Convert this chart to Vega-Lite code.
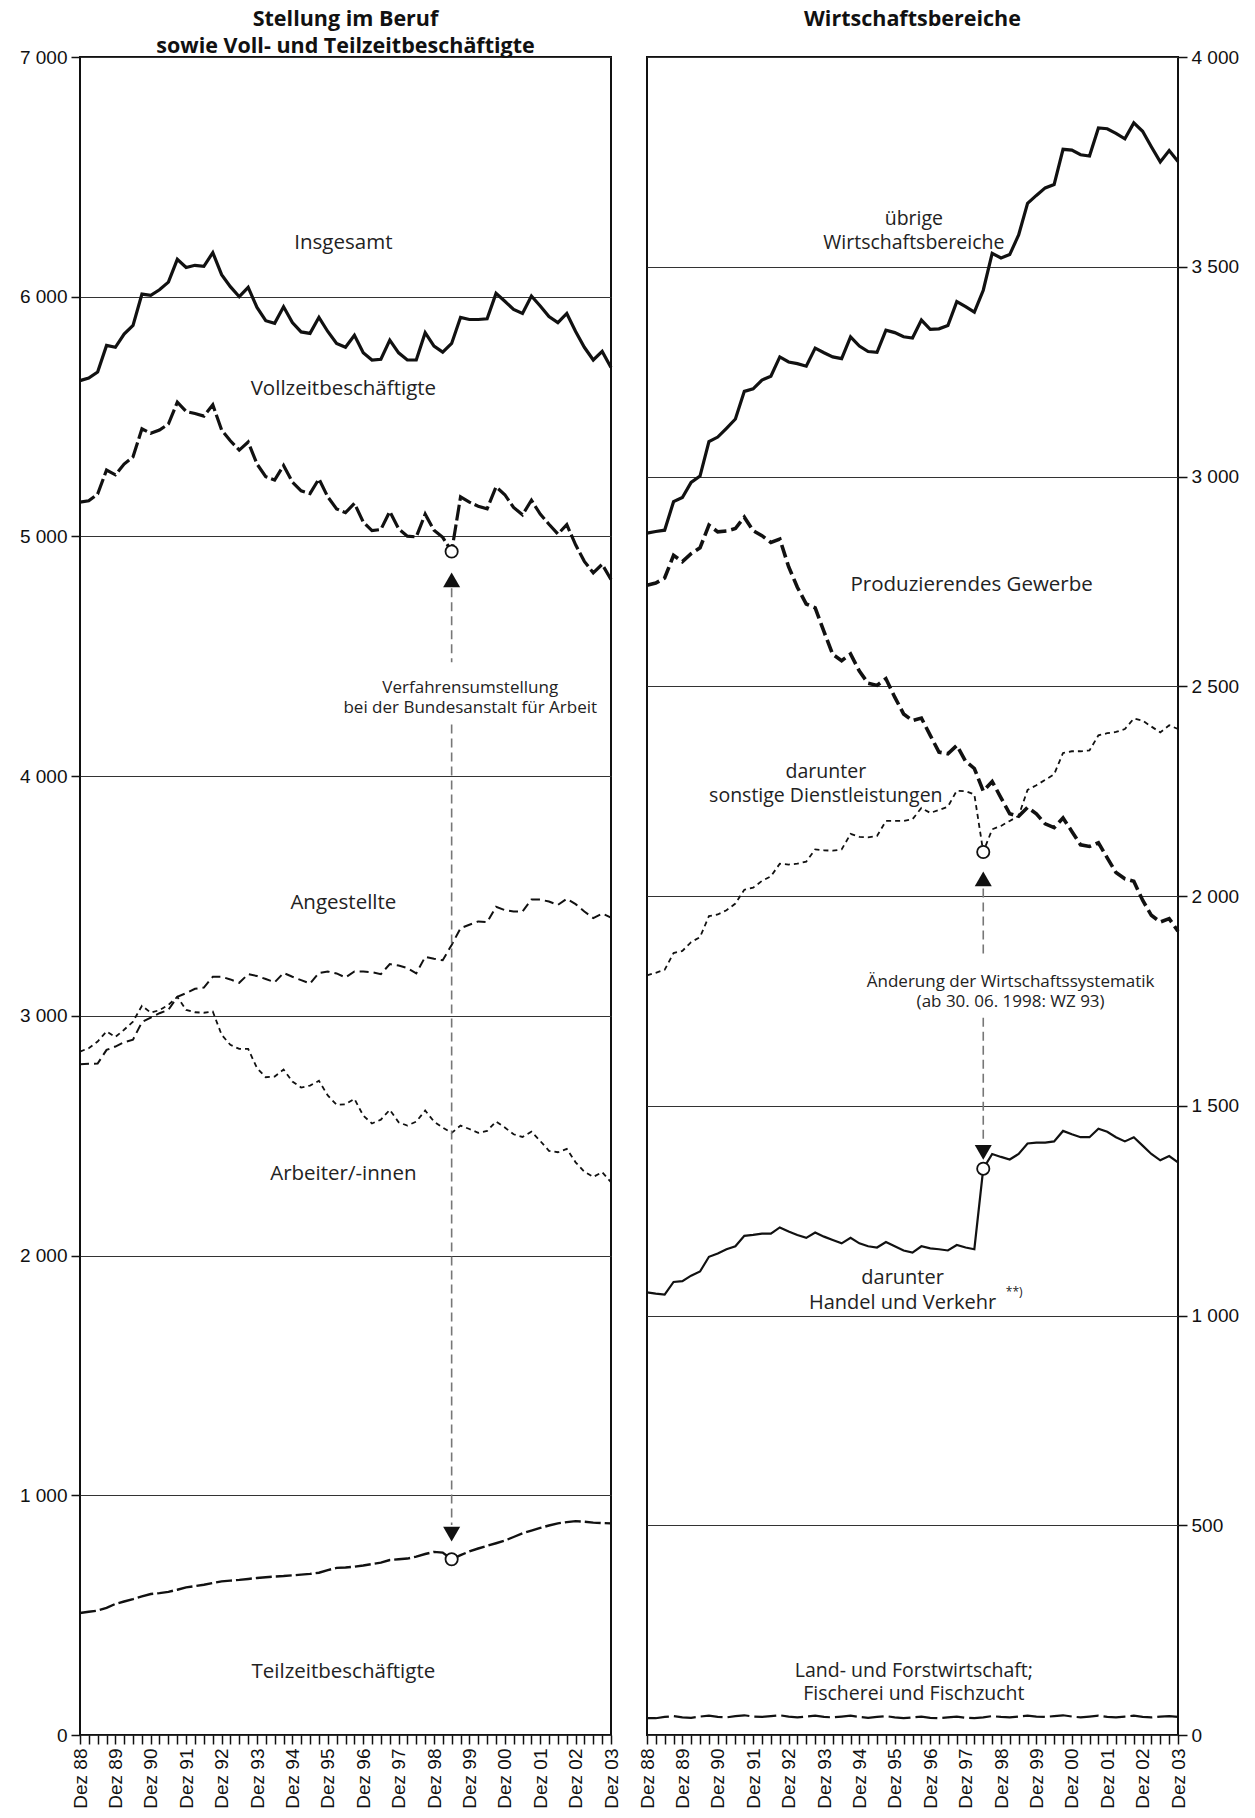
{
"$schema": "https://vega.github.io/schema/vega-lite/v6.json",
"background": "white",
"padding": {"left": 18, "top": 7, "right": 5, "bottom": 0},
"spacing": 15,
"config": {
  "view": {"stroke": "#111", "strokeWidth": 2},
  "font": "Open Sans",
  "title": {"font": "Open Sans", "fontSize": 21.5, "fontWeight": "bold", "color": "#111", "anchor": "middle", "lineHeight": 27, "offset": -9},
  "axis": {"title": null, "labelFont": "Liberation Sans", "labelFontSize": 19, "labelColor": "#111", "tickColor": "#111", "tickSize": 9, "tickWidth": 1.5, "domain": false, "labelPadding": 4},
  "text": {"font": "Open Sans", "color": "#222", "fontSize": 20, "align": "center", "baseline": "middle", "lineBreak": "\n"}
},
"datasets": {
"links": [
{"date":"1988-12","series":"Insgesamt","value":5650},{"date":"1989-03","series":"Insgesamt","value":5661},{"date":"1989-06","series":"Insgesamt","value":5686},{"date":"1989-09","series":"Insgesamt","value":5797},{"date":"1989-12","series":"Insgesamt","value":5789},{"date":"1990-03","series":"Insgesamt","value":5844},{"date":"1990-06","series":"Insgesamt","value":5880},{"date":"1990-09","series":"Insgesamt","value":6011},{"date":"1990-12","series":"Insgesamt","value":6006},{"date":"1991-03","series":"Insgesamt","value":6029},{"date":"1991-06","series":"Insgesamt","value":6061},{"date":"1991-09","series":"Insgesamt","value":6156},{"date":"1991-12","series":"Insgesamt","value":6122},{"date":"1992-03","series":"Insgesamt","value":6131},{"date":"1992-06","series":"Insgesamt","value":6127},{"date":"1992-09","series":"Insgesamt","value":6184},{"date":"1992-12","series":"Insgesamt","value":6092},{"date":"1993-03","series":"Insgesamt","value":6042},{"date":"1993-06","series":"Insgesamt","value":6000},{"date":"1993-09","series":"Insgesamt","value":6039},{"date":"1993-12","series":"Insgesamt","value":5955},{"date":"1994-03","series":"Insgesamt","value":5900},{"date":"1994-06","series":"Insgesamt","value":5889},{"date":"1994-09","series":"Insgesamt","value":5958},{"date":"1994-12","series":"Insgesamt","value":5892},{"date":"1995-03","series":"Insgesamt","value":5853},{"date":"1995-06","series":"Insgesamt","value":5847},{"date":"1995-09","series":"Insgesamt","value":5914},{"date":"1995-12","series":"Insgesamt","value":5855},{"date":"1996-03","series":"Insgesamt","value":5805},{"date":"1996-06","series":"Insgesamt","value":5789},{"date":"1996-09","series":"Insgesamt","value":5839},{"date":"1996-12","series":"Insgesamt","value":5766},{"date":"1997-03","series":"Insgesamt","value":5736},{"date":"1997-06","series":"Insgesamt","value":5739},{"date":"1997-09","series":"Insgesamt","value":5819},{"date":"1997-12","series":"Insgesamt","value":5766},{"date":"1998-03","series":"Insgesamt","value":5736},{"date":"1998-06","series":"Insgesamt","value":5736},{"date":"1998-09","series":"Insgesamt","value":5850},{"date":"1998-12","series":"Insgesamt","value":5794},{"date":"1999-03","series":"Insgesamt","value":5769},{"date":"1999-06","series":"Insgesamt","value":5805},{"date":"1999-09","series":"Insgesamt","value":5914},{"date":"1999-12","series":"Insgesamt","value":5905},{"date":"2000-03","series":"Insgesamt","value":5905},{"date":"2000-06","series":"Insgesamt","value":5908},{"date":"2000-09","series":"Insgesamt","value":6014},{"date":"2000-12","series":"Insgesamt","value":5981},{"date":"2001-03","series":"Insgesamt","value":5947},{"date":"2001-06","series":"Insgesamt","value":5930},{"date":"2001-09","series":"Insgesamt","value":6003},{"date":"2001-12","series":"Insgesamt","value":5961},{"date":"2002-03","series":"Insgesamt","value":5917},{"date":"2002-06","series":"Insgesamt","value":5892},{"date":"2002-09","series":"Insgesamt","value":5930},{"date":"2002-12","series":"Insgesamt","value":5855},{"date":"2003-03","series":"Insgesamt","value":5789},{"date":"2003-06","series":"Insgesamt","value":5736},{"date":"2003-09","series":"Insgesamt","value":5772},{"date":"2003-12","series":"Insgesamt","value":5705},
{"date":"1988-12","series":"Vollzeit","value":5143},{"date":"1989-03","series":"Vollzeit","value":5149},{"date":"1989-06","series":"Vollzeit","value":5177},{"date":"1989-09","series":"Vollzeit","value":5277},{"date":"1989-12","series":"Vollzeit","value":5257},{"date":"1990-03","series":"Vollzeit","value":5302},{"date":"1990-06","series":"Vollzeit","value":5332},{"date":"1990-09","series":"Vollzeit","value":5449},{"date":"1990-12","series":"Vollzeit","value":5430},{"date":"1991-03","series":"Vollzeit","value":5444},{"date":"1991-06","series":"Vollzeit","value":5469},{"date":"1991-09","series":"Vollzeit","value":5560},{"date":"1991-12","series":"Vollzeit","value":5521},{"date":"1992-03","series":"Vollzeit","value":5513},{"date":"1992-06","series":"Vollzeit","value":5502},{"date":"1992-09","series":"Vollzeit","value":5549},{"date":"1992-12","series":"Vollzeit","value":5444},{"date":"1993-03","series":"Vollzeit","value":5399},{"date":"1993-06","series":"Vollzeit","value":5360},{"date":"1993-09","series":"Vollzeit","value":5394},{"date":"1993-12","series":"Vollzeit","value":5302},{"date":"1994-03","series":"Vollzeit","value":5249},{"date":"1994-06","series":"Vollzeit","value":5235},{"date":"1994-09","series":"Vollzeit","value":5296},{"date":"1994-12","series":"Vollzeit","value":5227},{"date":"1995-03","series":"Vollzeit","value":5190},{"date":"1995-06","series":"Vollzeit","value":5179},{"date":"1995-09","series":"Vollzeit","value":5240},{"date":"1995-12","series":"Vollzeit","value":5165},{"date":"1996-03","series":"Vollzeit","value":5115},{"date":"1996-06","series":"Vollzeit","value":5099},{"date":"1996-09","series":"Vollzeit","value":5138},{"date":"1996-12","series":"Vollzeit","value":5060},{"date":"1997-03","series":"Vollzeit","value":5024},{"date":"1997-06","series":"Vollzeit","value":5029},{"date":"1997-09","series":"Vollzeit","value":5104},{"date":"1997-12","series":"Vollzeit","value":5032},{"date":"1998-03","series":"Vollzeit","value":5001},{"date":"1998-06","series":"Vollzeit","value":4998},{"date":"1998-09","series":"Vollzeit","value":5093},{"date":"1998-12","series":"Vollzeit","value":5026},{"date":"1999-03","series":"Vollzeit","value":4996},{"date":"1999-06","series":"Vollzeit","value":4937},{"date":"1999-09","series":"Vollzeit","value":5165},{"date":"1999-12","series":"Vollzeit","value":5143},{"date":"2000-03","series":"Vollzeit","value":5126},{"date":"2000-06","series":"Vollzeit","value":5115},{"date":"2000-09","series":"Vollzeit","value":5207},{"date":"2000-12","series":"Vollzeit","value":5174},{"date":"2001-03","series":"Vollzeit","value":5121},{"date":"2001-06","series":"Vollzeit","value":5090},{"date":"2001-09","series":"Vollzeit","value":5151},{"date":"2001-12","series":"Vollzeit","value":5093},{"date":"2002-03","series":"Vollzeit","value":5051},{"date":"2002-06","series":"Vollzeit","value":5010},{"date":"2002-09","series":"Vollzeit","value":5049},{"date":"2002-12","series":"Vollzeit","value":4965},{"date":"2003-03","series":"Vollzeit","value":4896},{"date":"2003-06","series":"Vollzeit","value":4848},{"date":"2003-09","series":"Vollzeit","value":4884},{"date":"2003-12","series":"Vollzeit","value":4820},
{"date":"1988-12","series":"Teilzeit","value":509},{"date":"1989-03","series":"Teilzeit","value":514},{"date":"1989-06","series":"Teilzeit","value":519},{"date":"1989-09","series":"Teilzeit","value":530},{"date":"1989-12","series":"Teilzeit","value":547},{"date":"1990-03","series":"Teilzeit","value":557},{"date":"1990-06","series":"Teilzeit","value":567},{"date":"1990-09","series":"Teilzeit","value":578},{"date":"1990-12","series":"Teilzeit","value":588},{"date":"1991-03","series":"Teilzeit","value":592},{"date":"1991-06","series":"Teilzeit","value":597},{"date":"1991-09","series":"Teilzeit","value":606},{"date":"1991-12","series":"Teilzeit","value":616},{"date":"1992-03","series":"Teilzeit","value":621},{"date":"1992-06","series":"Teilzeit","value":627},{"date":"1992-09","series":"Teilzeit","value":634},{"date":"1992-12","series":"Teilzeit","value":641},{"date":"1993-03","series":"Teilzeit","value":644},{"date":"1993-06","series":"Teilzeit","value":647},{"date":"1993-09","series":"Teilzeit","value":651},{"date":"1993-12","series":"Teilzeit","value":655},{"date":"1994-03","series":"Teilzeit","value":658},{"date":"1994-06","series":"Teilzeit","value":661},{"date":"1994-09","series":"Teilzeit","value":663},{"date":"1994-12","series":"Teilzeit","value":666},{"date":"1995-03","series":"Teilzeit","value":669},{"date":"1995-06","series":"Teilzeit","value":672},{"date":"1995-09","series":"Teilzeit","value":677},{"date":"1995-12","series":"Teilzeit","value":688},{"date":"1996-03","series":"Teilzeit","value":697},{"date":"1996-06","series":"Teilzeit","value":699},{"date":"1996-09","series":"Teilzeit","value":702},{"date":"1996-12","series":"Teilzeit","value":707},{"date":"1997-03","series":"Teilzeit","value":713},{"date":"1997-06","series":"Teilzeit","value":719},{"date":"1997-09","series":"Teilzeit","value":730},{"date":"1997-12","series":"Teilzeit","value":733},{"date":"1998-03","series":"Teilzeit","value":736},{"date":"1998-06","series":"Teilzeit","value":744},{"date":"1998-09","series":"Teilzeit","value":755},{"date":"1998-12","series":"Teilzeit","value":764},{"date":"1999-03","series":"Teilzeit","value":761},{"date":"1999-06","series":"Teilzeit","value":733},{"date":"1999-09","series":"Teilzeit","value":750},{"date":"1999-12","series":"Teilzeit","value":766},{"date":"2000-03","series":"Teilzeit","value":778},{"date":"2000-06","series":"Teilzeit","value":789},{"date":"2000-09","series":"Teilzeit","value":800},{"date":"2000-12","series":"Teilzeit","value":811},{"date":"2001-03","series":"Teilzeit","value":826},{"date":"2001-06","series":"Teilzeit","value":841},{"date":"2001-09","series":"Teilzeit","value":853},{"date":"2001-12","series":"Teilzeit","value":864},{"date":"2002-03","series":"Teilzeit","value":874},{"date":"2002-06","series":"Teilzeit","value":883},{"date":"2002-09","series":"Teilzeit","value":888},{"date":"2002-12","series":"Teilzeit","value":892},{"date":"2003-03","series":"Teilzeit","value":890},{"date":"2003-06","series":"Teilzeit","value":886},{"date":"2003-09","series":"Teilzeit","value":884},{"date":"2003-12","series":"Teilzeit","value":883},
{"date":"1988-12","series":"Angestellte","value":2798},{"date":"1989-03","series":"Angestellte","value":2800},{"date":"1989-06","series":"Angestellte","value":2801},{"date":"1989-09","series":"Angestellte","value":2858},{"date":"1989-12","series":"Angestellte","value":2872},{"date":"1990-03","series":"Angestellte","value":2890},{"date":"1990-06","series":"Angestellte","value":2901},{"date":"1990-09","series":"Angestellte","value":2974},{"date":"1990-12","series":"Angestellte","value":2993},{"date":"1991-03","series":"Angestellte","value":3011},{"date":"1991-06","series":"Angestellte","value":3025},{"date":"1991-09","series":"Angestellte","value":3079},{"date":"1991-12","series":"Angestellte","value":3095},{"date":"1992-03","series":"Angestellte","value":3113},{"date":"1992-06","series":"Angestellte","value":3118},{"date":"1992-09","series":"Angestellte","value":3163},{"date":"1992-12","series":"Angestellte","value":3163},{"date":"1993-03","series":"Angestellte","value":3152},{"date":"1993-06","series":"Angestellte","value":3138},{"date":"1993-09","series":"Angestellte","value":3174},{"date":"1993-12","series":"Angestellte","value":3166},{"date":"1994-03","series":"Angestellte","value":3154},{"date":"1994-06","series":"Angestellte","value":3140},{"date":"1994-09","series":"Angestellte","value":3179},{"date":"1994-12","series":"Angestellte","value":3163},{"date":"1995-03","series":"Angestellte","value":3149},{"date":"1995-06","series":"Angestellte","value":3135},{"date":"1995-09","series":"Angestellte","value":3179},{"date":"1995-12","series":"Angestellte","value":3185},{"date":"1996-03","series":"Angestellte","value":3177},{"date":"1996-06","series":"Angestellte","value":3160},{"date":"1996-09","series":"Angestellte","value":3185},{"date":"1996-12","series":"Angestellte","value":3185},{"date":"1997-03","series":"Angestellte","value":3182},{"date":"1997-06","series":"Angestellte","value":3174},{"date":"1997-09","series":"Angestellte","value":3216},{"date":"1997-12","series":"Angestellte","value":3210},{"date":"1998-03","series":"Angestellte","value":3199},{"date":"1998-06","series":"Angestellte","value":3177},{"date":"1998-09","series":"Angestellte","value":3246},{"date":"1998-12","series":"Angestellte","value":3238},{"date":"1999-03","series":"Angestellte","value":3232},{"date":"1999-06","series":"Angestellte","value":3296},{"date":"1999-09","series":"Angestellte","value":3366},{"date":"1999-12","series":"Angestellte","value":3380},{"date":"2000-03","series":"Angestellte","value":3394},{"date":"2000-06","series":"Angestellte","value":3391},{"date":"2000-09","series":"Angestellte","value":3455},{"date":"2000-12","series":"Angestellte","value":3441},{"date":"2001-03","series":"Angestellte","value":3435},{"date":"2001-06","series":"Angestellte","value":3435},{"date":"2001-09","series":"Angestellte","value":3485},{"date":"2001-12","series":"Angestellte","value":3485},{"date":"2002-03","series":"Angestellte","value":3477},{"date":"2002-06","series":"Angestellte","value":3463},{"date":"2002-09","series":"Angestellte","value":3488},{"date":"2002-12","series":"Angestellte","value":3466},{"date":"2003-03","series":"Angestellte","value":3435},{"date":"2003-06","series":"Angestellte","value":3408},{"date":"2003-09","series":"Angestellte","value":3427},{"date":"2003-12","series":"Angestellte","value":3410},
{"date":"1988-12","series":"Arbeiter","value":2851},{"date":"1989-03","series":"Arbeiter","value":2865},{"date":"1989-06","series":"Arbeiter","value":2893},{"date":"1989-09","series":"Arbeiter","value":2935},{"date":"1989-12","series":"Arbeiter","value":2912},{"date":"1990-03","series":"Arbeiter","value":2942},{"date":"1990-06","series":"Arbeiter","value":2976},{"date":"1990-09","series":"Arbeiter","value":3042},{"date":"1990-12","series":"Arbeiter","value":3013},{"date":"1991-03","series":"Arbeiter","value":3024},{"date":"1991-06","series":"Arbeiter","value":3046},{"date":"1991-09","series":"Arbeiter","value":3079},{"date":"1991-12","series":"Arbeiter","value":3025},{"date":"1992-03","series":"Arbeiter","value":3015},{"date":"1992-06","series":"Arbeiter","value":3013},{"date":"1992-09","series":"Arbeiter","value":3018},{"date":"1992-12","series":"Arbeiter","value":2921},{"date":"1993-03","series":"Arbeiter","value":2879},{"date":"1993-06","series":"Arbeiter","value":2862},{"date":"1993-09","series":"Arbeiter","value":2862},{"date":"1993-12","series":"Arbeiter","value":2782},{"date":"1994-03","series":"Arbeiter","value":2744},{"date":"1994-06","series":"Arbeiter","value":2747},{"date":"1994-09","series":"Arbeiter","value":2776},{"date":"1994-12","series":"Arbeiter","value":2726},{"date":"1995-03","series":"Arbeiter","value":2701},{"date":"1995-06","series":"Arbeiter","value":2709},{"date":"1995-09","series":"Arbeiter","value":2729},{"date":"1995-12","series":"Arbeiter","value":2668},{"date":"1996-03","series":"Arbeiter","value":2629},{"date":"1996-06","series":"Arbeiter","value":2631},{"date":"1996-09","series":"Arbeiter","value":2654},{"date":"1996-12","series":"Arbeiter","value":2584},{"date":"1997-03","series":"Arbeiter","value":2551},{"date":"1997-06","series":"Arbeiter","value":2567},{"date":"1997-09","series":"Arbeiter","value":2608},{"date":"1997-12","series":"Arbeiter","value":2556},{"date":"1998-03","series":"Arbeiter","value":2542},{"date":"1998-06","series":"Arbeiter","value":2559},{"date":"1998-09","series":"Arbeiter","value":2605},{"date":"1998-12","series":"Arbeiter","value":2559},{"date":"1999-03","series":"Arbeiter","value":2534},{"date":"1999-06","series":"Arbeiter","value":2512},{"date":"1999-09","series":"Arbeiter","value":2542},{"date":"1999-12","series":"Arbeiter","value":2528},{"date":"2000-03","series":"Arbeiter","value":2512},{"date":"2000-06","series":"Arbeiter","value":2520},{"date":"2000-09","series":"Arbeiter","value":2559},{"date":"2000-12","series":"Arbeiter","value":2534},{"date":"2001-03","series":"Arbeiter","value":2506},{"date":"2001-06","series":"Arbeiter","value":2495},{"date":"2001-09","series":"Arbeiter","value":2517},{"date":"2001-12","series":"Arbeiter","value":2478},{"date":"2002-03","series":"Arbeiter","value":2437},{"date":"2002-06","series":"Arbeiter","value":2431},{"date":"2002-09","series":"Arbeiter","value":2445},{"date":"2002-12","series":"Arbeiter","value":2389},{"date":"2003-03","series":"Arbeiter","value":2350},{"date":"2003-06","series":"Arbeiter","value":2328},{"date":"2003-09","series":"Arbeiter","value":2348},{"date":"2003-12","series":"Arbeiter","value":2306}
],
"rechts": [
{"date":"1988-12","series":"Übrige","value":2865},{"date":"1989-03","series":"Übrige","value":2869},{"date":"1989-06","series":"Übrige","value":2872},{"date":"1989-09","series":"Übrige","value":2940},{"date":"1989-12","series":"Übrige","value":2950},{"date":"1990-03","series":"Übrige","value":2986},{"date":"1990-06","series":"Übrige","value":3001},{"date":"1990-09","series":"Übrige","value":3083},{"date":"1990-12","series":"Übrige","value":3094},{"date":"1991-03","series":"Übrige","value":3115},{"date":"1991-06","series":"Übrige","value":3137},{"date":"1991-09","series":"Übrige","value":3203},{"date":"1991-12","series":"Übrige","value":3209},{"date":"1992-03","series":"Übrige","value":3230},{"date":"1992-06","series":"Übrige","value":3239},{"date":"1992-09","series":"Übrige","value":3285},{"date":"1992-12","series":"Übrige","value":3273},{"date":"1993-03","series":"Übrige","value":3269},{"date":"1993-06","series":"Übrige","value":3263},{"date":"1993-09","series":"Übrige","value":3306},{"date":"1993-12","series":"Übrige","value":3295},{"date":"1994-03","series":"Übrige","value":3285},{"date":"1994-06","series":"Übrige","value":3281},{"date":"1994-09","series":"Übrige","value":3333},{"date":"1994-12","series":"Übrige","value":3311},{"date":"1995-03","series":"Übrige","value":3298},{"date":"1995-06","series":"Übrige","value":3296},{"date":"1995-09","series":"Übrige","value":3349},{"date":"1995-12","series":"Übrige","value":3343},{"date":"1996-03","series":"Übrige","value":3333},{"date":"1996-06","series":"Übrige","value":3330},{"date":"1996-09","series":"Übrige","value":3373},{"date":"1996-12","series":"Übrige","value":3351},{"date":"1997-03","series":"Übrige","value":3352},{"date":"1997-06","series":"Übrige","value":3360},{"date":"1997-09","series":"Übrige","value":3417},{"date":"1997-12","series":"Übrige","value":3405},{"date":"1998-03","series":"Übrige","value":3392},{"date":"1998-06","series":"Übrige","value":3444},{"date":"1998-09","series":"Übrige","value":3532},{"date":"1998-12","series":"Übrige","value":3521},{"date":"1999-03","series":"Übrige","value":3529},{"date":"1999-06","series":"Übrige","value":3576},{"date":"1999-09","series":"Übrige","value":3651},{"date":"1999-12","series":"Übrige","value":3670},{"date":"2000-03","series":"Übrige","value":3688},{"date":"2000-06","series":"Übrige","value":3696},{"date":"2000-09","series":"Übrige","value":3780},{"date":"2000-12","series":"Übrige","value":3778},{"date":"2001-03","series":"Übrige","value":3767},{"date":"2001-06","series":"Übrige","value":3764},{"date":"2001-09","series":"Übrige","value":3831},{"date":"2001-12","series":"Übrige","value":3829},{"date":"2002-03","series":"Übrige","value":3818},{"date":"2002-06","series":"Übrige","value":3805},{"date":"2002-09","series":"Übrige","value":3843},{"date":"2002-12","series":"Übrige","value":3823},{"date":"2003-03","series":"Übrige","value":3786},{"date":"2003-06","series":"Übrige","value":3750},{"date":"2003-09","series":"Übrige","value":3777},{"date":"2003-12","series":"Übrige","value":3751},
{"date":"1988-12","series":"Produzierend","value":2741},{"date":"1989-03","series":"Produzierend","value":2746},{"date":"1989-06","series":"Produzierend","value":2758},{"date":"1989-09","series":"Produzierend","value":2812},{"date":"1989-12","series":"Produzierend","value":2797},{"date":"1990-03","series":"Produzierend","value":2816},{"date":"1990-06","series":"Produzierend","value":2830},{"date":"1990-09","series":"Produzierend","value":2884},{"date":"1990-12","series":"Produzierend","value":2868},{"date":"1991-03","series":"Produzierend","value":2870},{"date":"1991-06","series":"Produzierend","value":2876},{"date":"1991-09","series":"Produzierend","value":2903},{"date":"1991-12","series":"Produzierend","value":2871},{"date":"1992-03","series":"Produzierend","value":2859},{"date":"1992-06","series":"Produzierend","value":2843},{"date":"1992-09","series":"Produzierend","value":2851},{"date":"1992-12","series":"Produzierend","value":2785},{"date":"1993-03","series":"Produzierend","value":2736},{"date":"1993-06","series":"Produzierend","value":2696},{"date":"1993-09","series":"Produzierend","value":2687},{"date":"1993-12","series":"Produzierend","value":2630},{"date":"1994-03","series":"Produzierend","value":2576},{"date":"1994-06","series":"Produzierend","value":2561},{"date":"1994-09","series":"Produzierend","value":2577},{"date":"1994-12","series":"Produzierend","value":2536},{"date":"1995-03","series":"Produzierend","value":2507},{"date":"1995-06","series":"Produzierend","value":2502},{"date":"1995-09","series":"Produzierend","value":2518},{"date":"1995-12","series":"Produzierend","value":2474},{"date":"1996-03","series":"Produzierend","value":2434},{"date":"1996-06","series":"Produzierend","value":2418},{"date":"1996-09","series":"Produzierend","value":2424},{"date":"1996-12","series":"Produzierend","value":2383},{"date":"1997-03","series":"Produzierend","value":2343},{"date":"1997-06","series":"Produzierend","value":2339},{"date":"1997-09","series":"Produzierend","value":2359},{"date":"1997-12","series":"Produzierend","value":2321},{"date":"1998-03","series":"Produzierend","value":2304},{"date":"1998-06","series":"Produzierend","value":2250},{"date":"1998-09","series":"Produzierend","value":2273},{"date":"1998-12","series":"Produzierend","value":2234},{"date":"1999-03","series":"Produzierend","value":2196},{"date":"1999-06","series":"Produzierend","value":2190},{"date":"1999-09","series":"Produzierend","value":2211},{"date":"1999-12","series":"Produzierend","value":2196},{"date":"2000-03","series":"Produzierend","value":2172},{"date":"2000-06","series":"Produzierend","value":2163},{"date":"2000-09","series":"Produzierend","value":2186},{"date":"2000-12","series":"Produzierend","value":2154},{"date":"2001-03","series":"Produzierend","value":2122},{"date":"2001-06","series":"Produzierend","value":2118},{"date":"2001-09","series":"Produzierend","value":2127},{"date":"2001-12","series":"Produzierend","value":2091},{"date":"2002-03","series":"Produzierend","value":2056},{"date":"2002-06","series":"Produzierend","value":2041},{"date":"2002-09","series":"Produzierend","value":2035},{"date":"2002-12","series":"Produzierend","value":1990},{"date":"2003-03","series":"Produzierend","value":1954},{"date":"2003-06","series":"Produzierend","value":1938},{"date":"2003-09","series":"Produzierend","value":1946},{"date":"2003-12","series":"Produzierend","value":1916},
{"date":"1988-12","series":"Dienstleistungen","value":1811},{"date":"1989-03","series":"Dienstleistungen","value":1817},{"date":"1989-06","series":"Dienstleistungen","value":1824},{"date":"1989-09","series":"Dienstleistungen","value":1864},{"date":"1989-12","series":"Dienstleistungen","value":1869},{"date":"1990-03","series":"Dienstleistungen","value":1890},{"date":"1990-06","series":"Dienstleistungen","value":1902},{"date":"1990-09","series":"Dienstleistungen","value":1952},{"date":"1990-12","series":"Dienstleistungen","value":1956},{"date":"1991-03","series":"Dienstleistungen","value":1966},{"date":"1991-06","series":"Dienstleistungen","value":1982},{"date":"1991-09","series":"Dienstleistungen","value":2015},{"date":"1991-12","series":"Dienstleistungen","value":2020},{"date":"1992-03","series":"Dienstleistungen","value":2036},{"date":"1992-06","series":"Dienstleistungen","value":2047},{"date":"1992-09","series":"Dienstleistungen","value":2077},{"date":"1992-12","series":"Dienstleistungen","value":2075},{"date":"1993-03","series":"Dienstleistungen","value":2077},{"date":"1993-06","series":"Dienstleistungen","value":2082},{"date":"1993-09","series":"Dienstleistungen","value":2111},{"date":"1993-12","series":"Dienstleistungen","value":2109},{"date":"1994-03","series":"Dienstleistungen","value":2108},{"date":"1994-06","series":"Dienstleistungen","value":2111},{"date":"1994-09","series":"Dienstleistungen","value":2148},{"date":"1994-12","series":"Dienstleistungen","value":2141},{"date":"1995-03","series":"Dienstleistungen","value":2140},{"date":"1995-06","series":"Dienstleistungen","value":2143},{"date":"1995-09","series":"Dienstleistungen","value":2179},{"date":"1995-12","series":"Dienstleistungen","value":2179},{"date":"1996-03","series":"Dienstleistungen","value":2179},{"date":"1996-06","series":"Dienstleistungen","value":2183},{"date":"1996-09","series":"Dienstleistungen","value":2210},{"date":"1996-12","series":"Dienstleistungen","value":2198},{"date":"1997-03","series":"Dienstleistungen","value":2205},{"date":"1997-06","series":"Dienstleistungen","value":2213},{"date":"1997-09","series":"Dienstleistungen","value":2251},{"date":"1997-12","series":"Dienstleistungen","value":2250},{"date":"1998-03","series":"Dienstleistungen","value":2242},{"date":"1998-06","series":"Dienstleistungen","value":2105},{"date":"1998-09","series":"Dienstleistungen","value":2159},{"date":"1998-12","series":"Dienstleistungen","value":2167},{"date":"1999-03","series":"Dienstleistungen","value":2179},{"date":"1999-06","series":"Dienstleistungen","value":2191},{"date":"1999-09","series":"Dienstleistungen","value":2253},{"date":"1999-12","series":"Dienstleistungen","value":2264},{"date":"2000-03","series":"Dienstleistungen","value":2277},{"date":"2000-06","series":"Dienstleistungen","value":2290},{"date":"2000-09","series":"Dienstleistungen","value":2341},{"date":"2000-12","series":"Dienstleistungen","value":2345},{"date":"2001-03","series":"Dienstleistungen","value":2345},{"date":"2001-06","series":"Dienstleistungen","value":2347},{"date":"2001-09","series":"Dienstleistungen","value":2383},{"date":"2001-12","series":"Dienstleistungen","value":2388},{"date":"2002-03","series":"Dienstleistungen","value":2391},{"date":"2002-06","series":"Dienstleistungen","value":2398},{"date":"2002-09","series":"Dienstleistungen","value":2423},{"date":"2002-12","series":"Dienstleistungen","value":2418},{"date":"2003-03","series":"Dienstleistungen","value":2404},{"date":"2003-06","series":"Dienstleistungen","value":2390},{"date":"2003-09","series":"Dienstleistungen","value":2407},{"date":"2003-12","series":"Dienstleistungen","value":2398},
{"date":"1988-12","series":"Handel","value":1055},{"date":"1989-03","series":"Handel","value":1052},{"date":"1989-06","series":"Handel","value":1050},{"date":"1989-09","series":"Handel","value":1080},{"date":"1989-12","series":"Handel","value":1082},{"date":"1990-03","series":"Handel","value":1095},{"date":"1990-06","series":"Handel","value":1105},{"date":"1990-09","series":"Handel","value":1140},{"date":"1990-12","series":"Handel","value":1148},{"date":"1991-03","series":"Handel","value":1158},{"date":"1991-06","series":"Handel","value":1165},{"date":"1991-09","series":"Handel","value":1190},{"date":"1991-12","series":"Handel","value":1192},{"date":"1992-03","series":"Handel","value":1195},{"date":"1992-06","series":"Handel","value":1195},{"date":"1992-09","series":"Handel","value":1210},{"date":"1992-12","series":"Handel","value":1200},{"date":"1993-03","series":"Handel","value":1192},{"date":"1993-06","series":"Handel","value":1185},{"date":"1993-09","series":"Handel","value":1198},{"date":"1993-12","series":"Handel","value":1188},{"date":"1994-03","series":"Handel","value":1180},{"date":"1994-06","series":"Handel","value":1172},{"date":"1994-09","series":"Handel","value":1185},{"date":"1994-12","series":"Handel","value":1172},{"date":"1995-03","series":"Handel","value":1165},{"date":"1995-06","series":"Handel","value":1162},{"date":"1995-09","series":"Handel","value":1175},{"date":"1995-12","series":"Handel","value":1165},{"date":"1996-03","series":"Handel","value":1155},{"date":"1996-06","series":"Handel","value":1150},{"date":"1996-09","series":"Handel","value":1165},{"date":"1996-12","series":"Handel","value":1160},{"date":"1997-03","series":"Handel","value":1158},{"date":"1997-06","series":"Handel","value":1155},{"date":"1997-09","series":"Handel","value":1168},{"date":"1997-12","series":"Handel","value":1162},{"date":"1998-03","series":"Handel","value":1158},{"date":"1998-06","series":"Handel","value":1350},{"date":"1998-09","series":"Handel","value":1385},{"date":"1998-12","series":"Handel","value":1378},{"date":"1999-03","series":"Handel","value":1372},{"date":"1999-06","series":"Handel","value":1385},{"date":"1999-09","series":"Handel","value":1410},{"date":"1999-12","series":"Handel","value":1412},{"date":"2000-03","series":"Handel","value":1412},{"date":"2000-06","series":"Handel","value":1415},{"date":"2000-09","series":"Handel","value":1440},{"date":"2000-12","series":"Handel","value":1432},{"date":"2001-03","series":"Handel","value":1425},{"date":"2001-06","series":"Handel","value":1425},{"date":"2001-09","series":"Handel","value":1445},{"date":"2001-12","series":"Handel","value":1438},{"date":"2002-03","series":"Handel","value":1425},{"date":"2002-06","series":"Handel","value":1415},{"date":"2002-09","series":"Handel","value":1425},{"date":"2002-12","series":"Handel","value":1405},{"date":"2003-03","series":"Handel","value":1385},{"date":"2003-06","series":"Handel","value":1370},{"date":"2003-09","series":"Handel","value":1380},{"date":"2003-12","series":"Handel","value":1365},
{"date":"1988-12","series":"Land","value":40},{"date":"1989-03","series":"Land","value":40},{"date":"1989-06","series":"Land","value":43},{"date":"1989-09","series":"Land","value":45},{"date":"1989-12","series":"Land","value":42},{"date":"1990-03","series":"Land","value":41},{"date":"1990-06","series":"Land","value":44},{"date":"1990-09","series":"Land","value":46},{"date":"1990-12","series":"Land","value":43},{"date":"1991-03","series":"Land","value":42},{"date":"1991-06","series":"Land","value":45},{"date":"1991-09","series":"Land","value":47},{"date":"1991-12","series":"Land","value":44},{"date":"1992-03","series":"Land","value":43},{"date":"1992-06","series":"Land","value":45},{"date":"1992-09","series":"Land","value":47},{"date":"1992-12","series":"Land","value":44},{"date":"1993-03","series":"Land","value":42},{"date":"1993-06","series":"Land","value":44},{"date":"1993-09","series":"Land","value":46},{"date":"1993-12","series":"Land","value":43},{"date":"1994-03","series":"Land","value":42},{"date":"1994-06","series":"Land","value":44},{"date":"1994-09","series":"Land","value":46},{"date":"1994-12","series":"Land","value":43},{"date":"1995-03","series":"Land","value":41},{"date":"1995-06","series":"Land","value":43},{"date":"1995-09","series":"Land","value":45},{"date":"1995-12","series":"Land","value":42},{"date":"1996-03","series":"Land","value":40},{"date":"1996-06","series":"Land","value":42},{"date":"1996-09","series":"Land","value":44},{"date":"1996-12","series":"Land","value":41},{"date":"1997-03","series":"Land","value":40},{"date":"1997-06","series":"Land","value":42},{"date":"1997-09","series":"Land","value":44},{"date":"1997-12","series":"Land","value":41},{"date":"1998-03","series":"Land","value":40},{"date":"1998-06","series":"Land","value":42},{"date":"1998-09","series":"Land","value":45},{"date":"1998-12","series":"Land","value":43},{"date":"1999-03","series":"Land","value":42},{"date":"1999-06","series":"Land","value":44},{"date":"1999-09","series":"Land","value":46},{"date":"1999-12","series":"Land","value":44},{"date":"2000-03","series":"Land","value":43},{"date":"2000-06","series":"Land","value":45},{"date":"2000-09","series":"Land","value":47},{"date":"2000-12","series":"Land","value":44},{"date":"2001-03","series":"Land","value":42},{"date":"2001-06","series":"Land","value":44},{"date":"2001-09","series":"Land","value":46},{"date":"2001-12","series":"Land","value":43},{"date":"2002-03","series":"Land","value":42},{"date":"2002-06","series":"Land","value":44},{"date":"2002-09","series":"Land","value":46},{"date":"2002-12","series":"Land","value":43},{"date":"2003-03","series":"Land","value":42},{"date":"2003-06","series":"Land","value":44},{"date":"2003-09","series":"Land","value":45},{"date":"2003-12","series":"Land","value":43}
]
},
"hconcat": [
{
  "width": 531, "height": 1678,
  "title": {"text": ["Stellung im Beruf", "sowie Voll- und Teilzeitbeschäftigte"]},
  "data": {"name": "links"},
  "encoding": {
    "x": {"field": "date", "type": "temporal",
      "scale": {"type": "utc", "nice": false, "domain": [{"year": 1988, "month": 12, "date": 1, "utc": true}, {"year": 2003, "month": 12, "date": 1, "utc": true}]},
      "axis": {"grid": false, "tickCount": {"interval": "month", "step": 1}, "labelAngle": 270, "labelOverlap": false, "labelBound": false, "labelFlush": false,
        "labelExpr": "utcmonth(datum.value) == 11 ? 'Dez ' + utcFormat(datum.value, '%y') : ''",
        "tickOpacity": {"condition": {"test": "utcmonth(datum.value) % 3 == 2", "value": 1}, "value": 0}}},
    "y": {"field": "value", "type": "quantitative", "scale": {"domain": [0, 7000], "nice": false},
      "axis": {"orient": "left", "values": [0, 1000, 2000, 3000, 4000, 5000, 6000, 7000], "grid": true, "gridColor": "#333", "gridWidth": 1.1,
        "labelExpr": "replace(format(datum.value, ','), ',', ' ')"}}
  },
  "layer": [
    {"transform": [{"filter": "datum.series == 'Insgesamt'"}], "mark": {"type": "line", "color": "#111", "strokeWidth": 3.2}},
    {"transform": [{"filter": "datum.series == 'Vollzeit'"}], "mark": {"type": "line", "color": "#111", "strokeWidth": 3.2, "strokeDash": [16, 4]}},
    {"transform": [{"filter": "datum.series == 'Teilzeit'"}], "mark": {"type": "line", "color": "#111", "strokeWidth": 2.4, "strokeDash": [16, 4]}},
    {"transform": [{"filter": "datum.series == 'Angestellte'"}], "mark": {"type": "line", "color": "#111", "strokeWidth": 2, "strokeDash": [9, 5]}},
    {"transform": [{"filter": "datum.series == 'Arbeiter'"}], "mark": {"type": "line", "color": "#111", "strokeWidth": 1.8, "strokeDash": [5, 4]}},
    {"data": {"values": [{"date": "1999-06", "value": 4784, "value2": 4475}, {"date": "1999-06", "value": 4215, "value2": 876}]},
      "mark": {"type": "rule", "color": "#777", "strokeWidth": 1.6, "strokeDash": [9, 5]}, "encoding": {"y2": {"field": "value2"}}},
    {"data": {"values": [{"date": "1999-06", "value": 4819}]}, "mark": {"type": "point", "shape": "triangle-up", "filled": true, "color": "#111", "size": 290, "opacity": 1}},
    {"data": {"values": [{"date": "1999-06", "value": 838}]}, "mark": {"type": "point", "shape": "triangle-down", "filled": true, "color": "#111", "size": 290, "opacity": 1}},
    {"data": {"values": [{"date": "1999-06", "value": 4937}, {"date": "1999-06", "value": 733}]}, "mark": {"type": "point", "shape": "circle", "size": 150, "filled": true, "fill": "white", "stroke": "#111", "strokeWidth": 1.8, "opacity": 1}},
    {"data": {"values": [
      {"date": "1996-05-10", "value": 6226, "label": "Insgesamt"},
      {"date": "1996-05-10", "value": 5614, "label": "Vollzeitbeschäftigte"},
      {"date": "1996-05-10", "value": 3472, "label": "Angestellte"},
      {"date": "1996-05-10", "value": 2340, "label": "Arbeiter/-innen"},
      {"date": "1996-05-10", "value": 264, "label": "Teilzeitbeschäftigte"}]},
      "mark": {"type": "text", "fontSize": 20.5}, "encoding": {"text": {"field": "label"}}},
    {"data": {"values": [
      {"date": "1999-12-10", "value": 4368, "label": "Verfahrensumstellung\nbei der Bundesanstalt für Arbeit"}]},
      "mark": {"type": "text", "fontSize": 17, "lineHeight": 20}, "encoding": {"text": {"field": "label"}}}
  ]
},
{
  "width": 531, "height": 1678,
  "title": {"text": "Wirtschaftsbereiche", "offset": 18},
  "data": {"name": "rechts"},
  "encoding": {
    "x": {"field": "date", "type": "temporal",
      "scale": {"type": "utc", "nice": false, "domain": [{"year": 1988, "month": 12, "date": 1, "utc": true}, {"year": 2003, "month": 12, "date": 1, "utc": true}]},
      "axis": {"grid": false, "tickCount": {"interval": "month", "step": 1}, "labelAngle": 270, "labelOverlap": false, "labelBound": false, "labelFlush": false,
        "labelExpr": "utcmonth(datum.value) == 11 ? 'Dez ' + utcFormat(datum.value, '%y') : ''",
        "tickOpacity": {"condition": {"test": "utcmonth(datum.value) % 3 == 2", "value": 1}, "value": 0}}},
    "y": {"field": "value", "type": "quantitative", "scale": {"domain": [0, 4000], "nice": false},
      "axis": {"orient": "right", "values": [0, 500, 1000, 1500, 2000, 2500, 3000, 3500, 4000], "grid": true, "gridColor": "#333", "gridWidth": 1.1,
        "labelExpr": "replace(format(datum.value, ','), ',', ' ')"}}
  },
  "layer": [
    {"transform": [{"filter": "datum.series == 'Übrige'"}], "mark": {"type": "line", "color": "#111", "strokeWidth": 3.2}},
    {"transform": [{"filter": "datum.series == 'Produzierend'"}], "mark": {"type": "line", "color": "#111", "strokeWidth": 3.6, "strokeDash": [13, 5]}},
    {"transform": [{"filter": "datum.series == 'Dienstleistungen'"}], "mark": {"type": "line", "color": "#111", "strokeWidth": 1.8, "strokeDash": [5, 4]}},
    {"transform": [{"filter": "datum.series == 'Handel'"}], "mark": {"type": "line", "color": "#111", "strokeWidth": 2.2}},
    {"transform": [{"filter": "datum.series == 'Land'"}], "mark": {"type": "line", "color": "#111", "strokeWidth": 2.2, "strokeDash": [22, 5]}},
    {"data": {"values": [{"date": "1998-06", "value": 2018, "value2": 1862}, {"date": "1998-06", "value": 1710, "value2": 1410}]},
      "mark": {"type": "rule", "color": "#777", "strokeWidth": 1.6, "strokeDash": [9, 5]}, "encoding": {"y2": {"field": "value2"}}},
    {"data": {"values": [{"date": "1998-06", "value": 2041}]}, "mark": {"type": "point", "shape": "triangle-up", "filled": true, "color": "#111", "size": 290, "opacity": 1}},
    {"data": {"values": [{"date": "1998-06", "value": 1389}]}, "mark": {"type": "point", "shape": "triangle-down", "filled": true, "color": "#111", "size": 290, "opacity": 1}},
    {"data": {"values": [{"date": "1998-06", "value": 2105}, {"date": "1998-06", "value": 1350}]}, "mark": {"type": "point", "shape": "circle", "size": 150, "filled": true, "fill": "white", "stroke": "#111", "strokeWidth": 1.8, "opacity": 1}},
    {"data": {"values": [
      {"date": "1996-06-15", "value": 3613, "label": "übrige\nWirtschaftsbereiche"},
      {"date": "1993-12-20", "value": 2295, "label": "darunter\nsonstige Dienstleistungen"},
      {"date": "1996-06-15", "value": 153, "label": "Land- und Forstwirtschaft;\nFischerei und Fischzucht"}]},
      "mark": {"type": "text", "fontSize": 19.5, "lineHeight": 23.5}, "encoding": {"text": {"field": "label"}}},
    {"data": {"values": [{"date": "1998-02-01", "value": 2742, "label": "Produzierendes Gewerbe"}]},
      "mark": {"type": "text", "fontSize": 20.5}, "encoding": {"text": {"field": "label"}}},
    {"data": {"values": [{"date": "1996-02-20", "value": 1089, "label": "darunter\nHandel und Verkehr"}]},
      "mark": {"type": "text", "fontSize": 20, "lineHeight": 24.5}, "encoding": {"text": {"field": "label"}}},
    {"data": {"values": [{"date": "1998-12-10", "value": 1030, "label": "**)"}]},
      "mark": {"type": "text", "fontSize": 12, "align": "left", "dx": 4, "dy": -11}, "encoding": {"text": {"field": "label"}}},
    {"data": {"values": [
      {"date": "1999-03-10", "value": 1795, "label": "Änderung der Wirtschaftssystematik\n(ab 30. 06. 1998: WZ 93)"}]},
      "mark": {"type": "text", "fontSize": 17, "lineHeight": 20.5}, "encoding": {"text": {"field": "label"}}}
  ]
}
]
}
